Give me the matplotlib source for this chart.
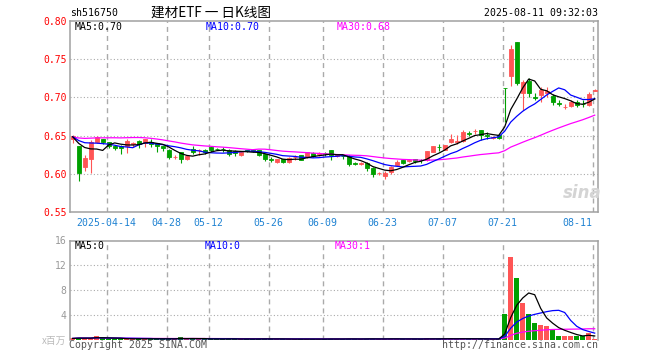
import matplotlib
matplotlib.use("Agg")
import matplotlib.pyplot as plt
import numpy as np
import pandas as pd

plt.rcParams["lines.scale_dashes"] = False

# ---------------- data ----------------
holidays = ["2025-04-04", "2025-05-01", "2025-05-02", "2025-05-05", "2025-06-02"]
dates = [d.strftime("%Y-%m-%d") for d in pd.bdate_range("2025-04-03", "2025-08-11")
         if d.strftime("%Y-%m-%d") not in holidays]

opens = [0.646, 0.636, 0.609, 0.620, 0.641, 0.645, 0.641, 0.636, 0.637, 0.637,
         0.6395, 0.643, 0.640, 0.642, 0.640, 0.636, 0.631, 0.622, 0.628, 0.619,
         0.6325, 0.6305, 0.6316, 0.635, 0.6327, 0.633, 0.631, 0.630, 0.625, 0.6305,
         0.631, 0.631, 0.6255, 0.619, 0.615, 0.619, 0.615, 0.6215, 0.624, 0.622,
         0.627, 0.6265, 0.6275, 0.631, 0.6235, 0.6235, 0.623, 0.6135, 0.613, 0.614,
         0.607, 0.6005, 0.597, 0.602, 0.6115, 0.6175, 0.617, 0.619, 0.618, 0.6185,
         0.6285, 0.6355, 0.6315, 0.641, 0.642, 0.6425, 0.653, 0.6555, 0.657, 0.6505,
         0.6474, 0.6505, 0.7125, 0.728, 0.772, 0.7053, 0.7219, 0.7005, 0.703, 0.706,
         0.7015, 0.6925, 0.6872, 0.6886, 0.6943, 0.6915, 0.6905, 0.709]
highs = [0.651, 0.637, 0.624, 0.644, 0.650, 0.646, 0.642, 0.638, 0.638, 0.645,
         0.642, 0.644, 0.646, 0.646, 0.640, 0.637, 0.633, 0.625, 0.628, 0.624,
         0.637, 0.6325, 0.633, 0.636, 0.634, 0.635, 0.632, 0.631, 0.630, 0.631,
         0.632, 0.631, 0.626, 0.622, 0.620, 0.619, 0.622, 0.624, 0.625, 0.629,
         0.628, 0.628, 0.629, 0.631, 0.626, 0.625, 0.625, 0.615, 0.616, 0.615,
         0.609, 0.603, 0.6035, 0.6105, 0.618, 0.619, 0.619, 0.620, 0.620, 0.630,
         0.637, 0.6395, 0.638, 0.6525, 0.6505, 0.657, 0.6555, 0.658, 0.657, 0.6545,
         0.650, 0.652, 0.7128, 0.768, 0.772, 0.7228, 0.725, 0.706, 0.713, 0.713,
         0.705, 0.6965, 0.692, 0.697, 0.6965, 0.6965, 0.7075, 0.7105]
lows = [0.640, 0.591, 0.604, 0.601, 0.640, 0.639, 0.634, 0.631, 0.626, 0.627,
        0.635, 0.634, 0.635, 0.635, 0.629, 0.630, 0.620, 0.620, 0.614, 0.618,
        0.626, 0.624, 0.6265, 0.629, 0.631, 0.629, 0.623, 0.623, 0.623, 0.628,
        0.628, 0.623, 0.617, 0.615, 0.614, 0.614, 0.614, 0.618, 0.618, 0.621,
        0.622, 0.623, 0.623, 0.618, 0.622, 0.620, 0.6105, 0.611, 0.612, 0.6035,
        0.5955, 0.599, 0.5935, 0.600, 0.610, 0.613, 0.615, 0.614, 0.614, 0.617,
        0.628, 0.630, 0.631, 0.640, 0.6395, 0.641, 0.649, 0.6525, 0.6445, 0.646,
        0.6455, 0.6455, 0.668, 0.715, 0.7165, 0.6833, 0.7005, 0.6965, 0.694, 0.700,
        0.690, 0.6885, 0.6845, 0.687, 0.687, 0.6877, 0.6886, 0.708]
closes = [0.650, 0.601, 0.621, 0.642, 0.648, 0.641, 0.637, 0.634, 0.634, 0.643,
          0.6405, 0.639, 0.645, 0.639, 0.636, 0.634, 0.622, 0.6225, 0.619, 0.623,
          0.629, 0.631, 0.628, 0.631, 0.6322, 0.6325, 0.626, 0.627, 0.629, 0.630,
          0.6295, 0.6245, 0.619, 0.6185, 0.619, 0.615, 0.621, 0.622, 0.6185, 0.628,
          0.623, 0.627, 0.627, 0.624, 0.624, 0.623, 0.613, 0.613, 0.6135, 0.608,
          0.600, 0.601, 0.6015, 0.6095, 0.616, 0.6145, 0.6175, 0.6165, 0.6175, 0.6295,
          0.636, 0.635, 0.6375, 0.645, 0.6425, 0.6545, 0.6525, 0.656, 0.6505, 0.650,
          0.6478, 0.647, 0.712, 0.7636, 0.7184, 0.7206, 0.7053, 0.6995, 0.7092, 0.7088,
          0.6945, 0.692, 0.6878, 0.6945, 0.690, 0.691, 0.7048, 0.7096]
# closes of the days before the first visible day, estimated from where the MA lines start
prior_closes = [0.634, 0.638, 0.632, 0.637, 0.640, 0.635, 0.633, 0.639, 0.636, 0.634, 0.638,
                0.655, 0.660, 0.664, 0.667, 0.663, 0.661, 0.665, 0.660, 0.663,
                0.652, 0.649, 0.646, 0.650, 0.647, 0.644, 0.648, 0.651, 0.649]
# volume, millions
volumes = [0.25, 0.35, 0.30, 0.30, 0.60, 0.25, 0.20, 0.20, 0.20, 0.20,
           0.15, 0.20, 0.20, 0.20, 0.20, 0.15, 0.20, 0.15, 0.50, 0.15,
           0.20, 0.15, 0.15, 0.20, 0.15, 0.15, 0.20, 0.15, 0.15, 0.15,
           0.15, 0.20, 0.20, 0.15, 0.15, 0.15, 0.15, 0.15, 0.15, 0.15,
           0.15, 0.15, 0.15, 0.20, 0.15, 0.15, 0.20, 0.15, 0.15, 0.20,
           0.20, 0.15, 0.15, 0.20, 0.20, 0.15, 0.15, 0.15, 0.15, 0.25,
           0.20, 0.15, 0.20, 0.20, 0.20, 0.25, 0.15, 0.15, 0.20, 0.15,
           0.15, 0.15, 4.2, 13.4, 10.0, 6.0, 4.2, 2.8, 2.4, 2.3,
           1.8, 0.65, 0.65, 0.65, 0.65, 0.65, 1.2, 0.1]

tick_dates = ["2025-04-14", "2025-04-28", "2025-05-12", "2025-05-26", "2025-06-09",
              "2025-06-23", "2025-07-07", "2025-07-21", "2025-08-11"]
tick_labels = ["2025-04-14", "04-28", "05-12", "05-26", "06-09", "06-23", "07-07", "07-21", "08-11"]
price_ticks = [0.55, 0.60, 0.65, 0.70, 0.75, 0.80]
vol_ticks = [4, 8, 12, 16]

# ---------------- derived ----------------
n = len(closes)
x = np.arange(n)
o = np.array(opens); c = np.array(closes); h = np.array(highs); l = np.array(lows)
v = np.array(volumes)
RED, GREEN = "#ff5555", "#00a000"
cols = [RED if cc >= oo else GREEN for oo, cc in zip(o, c)]

allc = pd.Series(prior_closes + closes)
ma5 = allc.rolling(5).mean().values[len(prior_closes):]
ma10 = allc.rolling(10).mean().values[len(prior_closes):]
ma30 = allc.rolling(30).mean().values[len(prior_closes):]
vs = pd.Series(volumes)
vma5 = vs.rolling(5, min_periods=1).mean().values
vma10 = vs.rolling(10, min_periods=1).mean().values
vma30 = vs.rolling(30, min_periods=1).mean().values

# ---------------- figure ----------------
W, H = 660, 360
fig = plt.figure(figsize=(W / 100, H / 100), dpi=100)
fig.patch.set_facecolor("white")
fx = lambda px: px / W
fy = lambda py: 1 - py / H

axp = fig.add_axes([fx(70), fy(212), 528 / W, 191 / H])
axv = fig.add_axes([fx(70), fy(340), 528 / W, 99.5 / H])

MONO = "DejaVu Sans Mono"
GRID = "#aaaaaa"
tick_pos = [dates.index(d) - 0.35 for d in tick_dates]

for ax in (axp, axv):
    ax.set_xlim(-0.45, n - 0.45)
    for s in ax.spines.values():
        s.set_color("#a0a0a0")
        s.set_linewidth(1.1)
    ax.tick_params(length=0)
    for tp in tick_pos:
        ax.axvline(tp, color=GRID, lw=1.0, ls=(0, (3.6, 2.9)), zorder=0)
axv.spines["bottom"].set_visible(False)

# price panel
axp.set_ylim(0.55, 0.80)
for yv in price_ticks[1:-1]:
    axp.axhline(yv, color=GRID, lw=0.8, ls=(0, (0.8, 1.6)), zorder=0)
axp.vlines(x, l, h, colors=cols, lw=0.8, zorder=2)
axp.bar(x, np.abs(c - o), bottom=np.minimum(o, c), width=0.72, color=cols,
        edgecolor=cols, linewidth=0.6, zorder=3)
axp.plot(x, ma30, color="#ff00ff", lw=0.9, zorder=4)
axp.plot(x, ma10, color="#0000ff", lw=0.9, zorder=4)
axp.plot(x, ma5, color="#000000", lw=0.9, zorder=5)
axp.set_yticks(price_ticks)
axp.set_yticklabels([f"{t:.2f}" for t in price_ticks], color="red", fontsize=7, family=MONO)
axp.tick_params(axis="y", pad=2.5)
axp.set_xticks(tick_pos)
axp.set_xticklabels(tick_labels, color="#1f82d2", fontsize=7.1, family=MONO)
axp.tick_params(axis="x", pad=4)
axp.get_xticklabels()[-1].set_horizontalalignment("right")

# volume panel
axv.set_ylim(0, 16)
for yv in vol_ticks[:-1]:
    axv.axhline(yv, color=GRID, lw=0.8, ls=(0, (0.8, 1.6)), zorder=0)
axv.bar(x, v, width=0.8, color=cols, linewidth=0, zorder=2)
axv.plot(x, vma30, color="#ff00ff", lw=0.9, zorder=4)
axv.plot(x, vma10, color="#0000ff", lw=0.9, zorder=4)
axv.plot(x, vma5, color="#000000", lw=0.9, zorder=5)
axv.set_yticks(vol_ticks)
axv.set_yticklabels([str(t) for t in vol_ticks], color="#999999", fontsize=7, family=MONO)
axv.tick_params(axis="y", pad=2.5)
axv.set_xticks([])

# texts
def t(px, py, s, **kw):
    kw.setdefault("family", MONO)
    kw.setdefault("fontsize", 7.1)
    kw.setdefault("va", "center")
    fig.text(fx(px), fy(py), s, **kw)

t(70, 12.5, "sh516750")
t(151, 12.5, "建材ETF 一 日K线图", family=["Noto Sans CJK SC", "DejaVu Sans"], fontsize=9.8)
t(598, 12.5, "2025-08-11 09:32:03", ha="right")
t(75, 26.5, "MA5:0.70", color="black")
t(206, 26.5, "MA10:0.70", color="#0000ff")
t(337, 26.5, "MA30:0.68", color="#ff00ff")
t(75, 246, "MA5:0", color="black")
t(205, 246, "MA10:0", color="#0000ff")
t(335, 246, "MA30:1", color="#ff00ff")
t(66, 340.5, "x百万", ha="right", color="#bbbbbb", family=["Noto Sans CJK SC", "DejaVu Sans"], fontsize=7)
t(69, 345.5, "Copyright 2025 SINA.COM", color="#555555")
t(598, 345.5, "http://finance.sina.com.cn", ha="right", color="#555555")
t(582, 193, "sina", ha="center", color="#d4d4d4", family="DejaVu Sans", fontsize=12,
  fontweight="bold", style="italic")

fig.savefig("out.png", dpi=100, facecolor="white")
